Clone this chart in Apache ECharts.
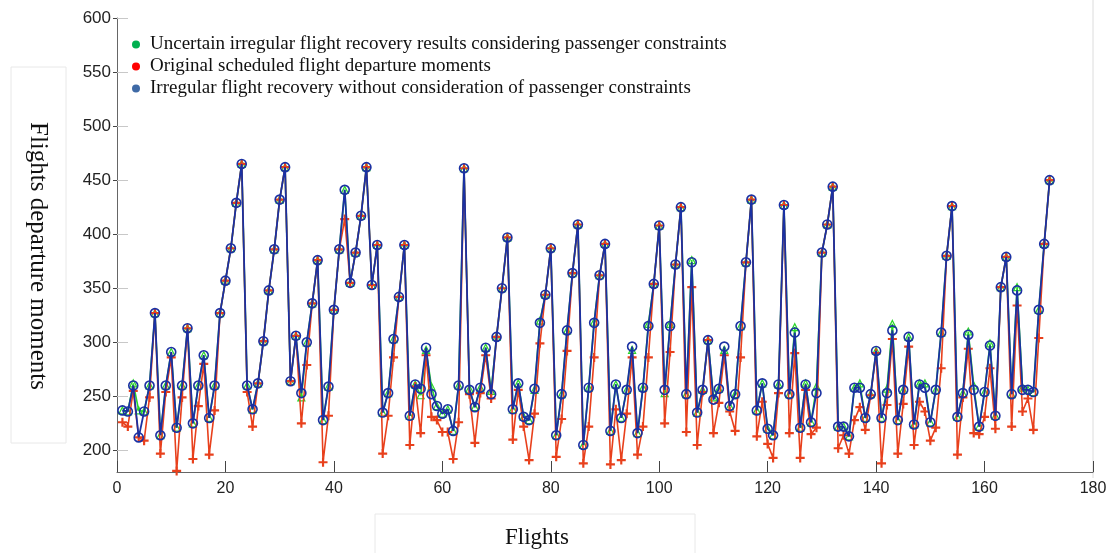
<!DOCTYPE html>
<html>
<head>
<meta charset="utf-8">
<script src="https://cdn.jsdelivr.net/npm/echarts@6/dist/echarts.min.js"></script>
<style>html,body{margin:0;padding:0;background:#fff}#c{width:1117px;height:553px}</style>
</head>
<body>
<div id="c"></div>
<script>
// Blue: irregular flight recovery without passenger constraints (flights 1..172)
var withoutPassenger = [237,236,260,212,236,260,327,214,260,291,221,260,313,225,260,288,230,260,327,357,
387,429,465,260,238,262,301,348,386,432,462,264,306,253,300,336,376,228,259,330,
386,441,355,383,417,462,353,390,235,253,303,342,390,232,261,257,295,252,241,234,
238,218,260,461,256,240,258,295,252,305,350,397,238,262,231,228,257,318,344,387,
214,252,311,364,409,205,258,318,362,391,218,261,230,256,296,216,258,315,354,408,
256,315,372,425,252,374,235,256,302,247,257,296,241,252,315,374,432,237,262,220,
214,261,427,252,309,221,261,226,253,383,409,444,222,222,213,258,258,230,252,292,
230,253,311,228,256,305,224,261,258,226,256,309,380,426,231,253,307,256,222,254,
297,232,351,379,252,348,256,256,254,330,391,450];
// Red: original scheduled flight departure moments
var originalSchedule = [226,222,255,212,209,249,327,197,254,286,181,249,313,192,241,280,196,237,327,357,
387,429,465,254,222,262,301,348,386,432,462,264,306,225,279,336,376,189,232,330,
386,414,355,383,417,462,353,390,197,232,286,342,390,205,259,216,288,231,228,217,
217,192,226,461,252,207,253,288,248,305,350,397,210,256,222,191,234,299,344,387,
194,229,292,364,409,188,222,286,362,391,187,238,191,234,286,196,222,286,354,408,
225,291,372,425,217,351,205,254,302,216,244,288,236,218,286,374,432,213,245,206,
193,253,427,216,290,193,256,215,221,383,409,444,202,214,197,228,240,219,251,290,
188,242,303,197,243,296,205,245,236,209,221,276,380,426,196,249,294,216,215,231,
276,220,351,379,222,334,236,248,219,304,391,450];
// Green: uncertain irregular flight recovery considering passenger constraints
var withPassenger = [237,236,262,237,236,260,327,214,260,291,221,260,313,225,260,288,230,260,327,357,
387,429,465,260,238,262,301,348,386,432,462,264,306,249,300,336,376,228,259,330,
386,441,355,383,417,462,353,390,235,253,303,342,390,232,261,251,293,259,241,234,
238,218,260,461,257,240,258,295,255,305,350,397,238,262,231,228,256,320,344,387,
214,252,311,364,409,205,258,319,362,391,218,261,230,256,293,216,258,317,354,408,
253,317,372,425,252,376,235,256,302,249,257,293,241,252,315,374,432,237,262,220,
214,261,427,252,314,221,262,226,259,383,409,444,222,222,213,258,262,230,252,292,
230,257,317,228,256,305,224,262,262,226,256,309,380,426,231,253,310,260,222,254,
299,232,351,379,252,351,258,256,254,330,391,450];
var xTicks = [0,20,40,60,80,100,120,140,160,180];
var yTicks = [200,250,300,350,400,450,500,550,600];
var names = ['Uncertain irregular flight recovery results considering passenger constraints',
             'Original scheduled flight departure moments',
             'Irregular flight recovery without consideration of passenger constraints'];

function pairs(arr){ return arr.map(function(v,i){ return [i+1, v]; }); }

var chart = echarts.init(document.getElementById('c'));
var serif = '"Liberation Serif","Times New Roman",serif';
var sans = '"Liberation Sans",Arial,sans-serif';
chart.setOption({
  animation: false,
  backgroundColor: '#fff',
  grid: {left: 117, right: 24, top: 18, bottom: 81, containLabel: false},
  legend: {
    orient: 'vertical', left: 127, top: 30, itemWidth: 8, itemHeight: 8, itemGap: 3,
    textStyle: {fontFamily: serif, fontSize: 19, color: '#111', padding: [0,0,0,5]},
    data: [
      {name: names[0], icon: 'circle', itemStyle: {color: '#00b050', borderWidth: 0}},
      {name: names[1], icon: 'circle', itemStyle: {color: '#ff0000', borderWidth: 0}},
      {name: names[2], icon: 'circle', itemStyle: {color: '#3f6aa6', borderWidth: 0}}
    ]
  },
  xAxis: {
    type: 'value', min: 0, max: 180, interval: 20,
    axisLine: {show: true, lineStyle: {color: '#666', width: 1}},
    axisTick: {show: true, inside: true, length: 11, lineStyle: {color: '#444'}},
    axisLabel: {fontFamily: sans, fontSize: 16, color: '#222', margin: 9, customValues: xTicks},
    splitLine: {show: false}
  },
  yAxis: [{
    type: 'value', min: 180, max: 600,
    axisLine: {show: true, lineStyle: {color: '#666', width: 1}},
    axisTick: {show: true, inside: false, length: 4, lineStyle: {color: '#444'}, customValues: yTicks},
    axisLabel: {fontFamily: sans, fontSize: 17, color: '#222', margin: 6, customValues: yTicks},
    splitLine: {show: false}
  },{
    type: 'value', min: 180, max: 600, position: 'left',
    axisLine: {show: false},
    axisTick: {show: true, inside: true, length: 11, lineStyle: {color: '#c8c8c8'}, customValues: yTicks},
    axisLabel: {show: false},
    splitLine: {show: false}
  }],
  series: [
    {
      name: names[0], type: 'line', z: 2, data: pairs(withPassenger),
      symbol: 'triangle', symbolSize: 7, showAllSymbol: true,
      lineStyle: {color: '#2bd62b', width: 1.6},
      itemStyle: {color: 'rgba(0,0,0,0)', borderColor: '#2bd62b', borderWidth: 1.2}
    },
    {
      name: names[1], type: 'line', z: 3, data: pairs(originalSchedule),
      symbol: 'path://M0,3.8H10V6.2H0Z M3.8,0H6.2V10H3.8Z', symbolSize: 9, showAllSymbol: true,
      lineStyle: {color: '#e8401c', width: 1.6},
      itemStyle: {color: '#e8401c', borderWidth: 0}
    },
    {
      name: names[2], type: 'line', z: 4, data: pairs(withoutPassenger),
      symbol: 'circle', symbolSize: 9, showAllSymbol: true,
      lineStyle: {color: '#1a31a3', width: 1.8},
      itemStyle: {color: 'rgba(0,0,0,0)', borderColor: '#1a31a3', borderWidth: 1.6}
    }
  ],
  graphic: [
    {type: 'line', shape: {x1: 1093, y1: 0, x2: 1093, y2: 478}, style: {stroke: '#dcdcdc', lineWidth: 1}, silent: true},
    {type: 'rect', shape: {x: 11, y: 67, width: 55, height: 376}, style: {fill: 'none', stroke: '#e8e8e8', lineWidth: 1}, silent: true},
    {type: 'text', x: 38, y: 256, rotation: -Math.PI/2,
      style: {text: 'Flights departure moments', font: '25px ' + serif, fill: '#111', textAlign: 'center', textVerticalAlign: 'middle'}, silent: true},
    {type: 'rect', shape: {x: 375, y: 514, width: 320, height: 45}, style: {fill: 'none', stroke: '#e8e8e8', lineWidth: 1}, silent: true},
    {type: 'text', x: 537, y: 538,
      style: {text: 'Flights', font: '23px ' + serif, fill: '#111', textAlign: 'center', textVerticalAlign: 'middle'}, silent: true}
  ]
});
</script>
</body>
</html>
